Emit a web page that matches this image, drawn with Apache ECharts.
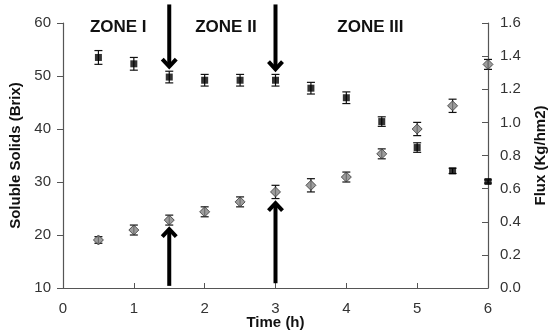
<!DOCTYPE html>
<html>
<head>
<meta charset="utf-8">
<script src="https://cdn.jsdelivr.net/npm/echarts@6/dist/echarts.min.js"></script>
<style>
  html, body { margin: 0; padding: 0; background: #fff; }
  #main { width: 552px; height: 333px; }
</style>
</head>
<body>
<div id="main"></div>
<script>
var times = [0.5, 1, 1.5, 2, 2.5, 3, 3.5, 4, 4.5, 5, 5.5, 6];
var brix = [53.5, 52.3, 49.8, 49.2, 49.2, 49.2, 47.7, 45.9, 41.4, 36.5, 32.1, 30.1];
var brixErr = [1.3, 1.2, 1.1, 1.1, 1.1, 1.1, 1.1, 1.1, 0.9, 0.9, 0.5, 0.3];
var flux = [0.29, 0.35, 0.41, 0.46, 0.52, 0.58, 0.62, 0.67, 0.81, 0.96, 1.10, 1.35];
var fluxErr = [0.02, 0.03, 0.03, 0.03, 0.03, 0.04, 0.04, 0.03, 0.03, 0.04, 0.04, 0.03];

// zone labels and arrows (data units, Brix axis)
var zoneNames = ['ZONE I', 'ZONE II', 'ZONE III'];
var zoneX = [0.78, 2.3, 4.34];
var arrowX = [1.5, 3];
var downFrom = [63.5, 63.5], downTo = [51.5, 51.0];
var upFrom = [10.4, 10.9], upTo = [21.4, 26.3];

var chart = echarts.init(document.getElementById('main'));

function errSeries(vals, errs, axisIdx) {
  return {
    type: 'custom',
    yAxisIndex: axisIdx,
    clip: false,
    z: 3,
    data: times.map(function (t, i) { return [t, vals[i] - errs[i], vals[i] + errs[i]]; }),
    renderItem: function (params, api) {
      var lo = api.coord([api.value(0), api.value(1)]);
      var hi = api.coord([api.value(0), api.value(2)]);
      var w = 4;
      var st = { stroke: '#111', lineWidth: 1.2 };
      return {
        type: 'group',
        children: [
          { type: 'line', shape: { x1: lo[0], y1: lo[1], x2: hi[0], y2: hi[1] }, style: st },
          { type: 'line', shape: { x1: lo[0] - w, y1: lo[1], x2: lo[0] + w, y2: lo[1] }, style: st },
          { type: 'line', shape: { x1: hi[0] - w, y1: hi[1], x2: hi[0] + w, y2: hi[1] }, style: st }
        ]
      };
    }
  };
}

var font = 'Liberation Sans, Arial';
var axisLine = { lineStyle: { color: '#555', width: 1.2 } };
var axisLabel = { color: '#333', fontSize: 15, fontFamily: font };
var nameStyle = { color: '#111', fontSize: 15, fontWeight: 'bold', fontFamily: font };

var option = {
  animation: false,
  grid: { left: 63, right: 64, top: 23, bottom: 45, containLabel: false, outerBoundsMode: 'none' },
  xAxis: {
    type: 'value', min: 0, max: 6, interval: 1,
    name: 'Time (h)', nameLocation: 'middle', nameGap: 27, nameMoveOverlap: false,
    nameTextStyle: nameStyle,
    axisLine: axisLine,
    axisTick: { inside: true, length: 5, lineStyle: { color: '#555' } },
    axisLabel: Object.assign({ margin: 13 }, axisLabel),
    splitLine: { show: false }
  },
  yAxis: [{
    type: 'value', min: 10, max: 60, interval: 10,
    name: 'Soluble Solids (Brix)', nameLocation: 'middle', nameGap: 40,
    nameTextStyle: nameStyle,
    axisLine: axisLine,
    axisTick: { show: true, length: 6, lineStyle: { color: '#555' } },
    axisLabel: Object.assign({ margin: 12 }, axisLabel),
    splitLine: { show: false }
  }, {
    type: 'value', min: 0, max: 1.6, interval: 0.2, position: 'right',
    name: 'Flux (Kg/hm2)', nameLocation: 'middle', nameGap: 45, nameRotate: 90,
    nameTextStyle: nameStyle,
    axisLine: axisLine,
    axisTick: { show: true, inside: true, length: 6, lineStyle: { color: '#555' } },
    axisLabel: Object.assign({ margin: 12, formatter: function (v) { return v.toFixed(1); } }, axisLabel),
    splitLine: { show: false }
  }],
  series: [
    errSeries(brix, brixErr, 0),
    errSeries(flux, fluxErr, 1),
    {
      type: 'scatter', yAxisIndex: 0, clip: false, z: 4,
      symbol: 'rect', symbolSize: 7,
      itemStyle: { color: '#000' },
      data: times.map(function (t, i) { return [t, brix[i]]; }),
      markPoint: {
        silent: true,
        symbol: 'circle', symbolSize: 0,
        label: {
          show: true, position: 'inside',
          color: '#111', fontSize: 17, fontWeight: 'bold', fontFamily: font,
          formatter: function (p) { return p.name; }
        },
        data: zoneNames.map(function (n, i) { return { name: n, coord: [zoneX[i], 59.1] }; })
      }
    },
    {
      type: 'scatter', yAxisIndex: 1, clip: false, z: 4,
      symbol: 'diamond', symbolSize: 10,
      itemStyle: { color: '#858585', borderColor: '#333', borderWidth: 1 },
      data: times.map(function (t, i) { return [t, flux[i]]; })
    }
  ]
};

chart.setOption(option);

// arrows: positions converted from data units through the chart's axes
function arrow(x, from, to) {
  var a = chart.convertToPixel({ xAxisIndex: 0, yAxisIndex: 0 }, [x, from]);
  var b = chart.convertToPixel({ xAxisIndex: 0, yAxisIndex: 0 }, [x, to]);
  var dir = b[1] > a[1] ? 1 : -1;
  var st = { stroke: '#000', lineWidth: 4, fill: null, lineJoin: 'miter' };
  return [
    { type: 'line', z: 10, shape: { x1: a[0], y1: a[1], x2: b[0], y2: b[1] - dir * 2 }, style: st },
    { type: 'polyline', z: 10, shape: { points: [[b[0] - 7, b[1] - dir * 9], [b[0], b[1] - dir * 1.5], [b[0] + 7, b[1] - dir * 9]] }, style: st }
  ];
}
var elems = [];
arrowX.forEach(function (x, i) {
  elems = elems.concat(arrow(x, downFrom[i], downTo[i]));
  elems = elems.concat(arrow(x, upFrom[i], upTo[i]));
});
chart.setOption({ graphic: elems });
</script>
</body>
</html>
